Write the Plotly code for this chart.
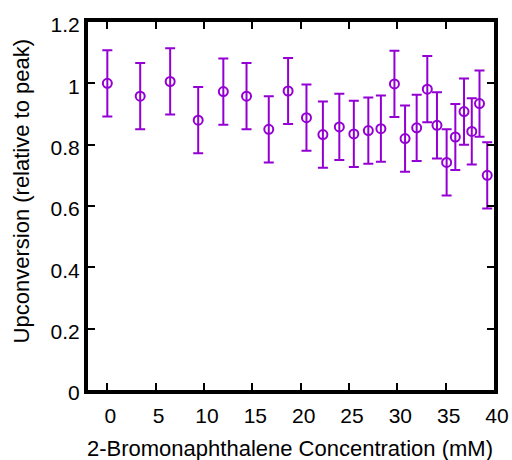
import plotly.graph_objects as go

conc = [0, 3.4, 6.5, 9.4, 12.0, 14.4, 16.7, 18.7, 20.6, 22.3, 24.0, 25.5, 27.0,
        28.3, 29.7, 30.8, 32.0, 33.1, 34.1, 35.1, 36.0, 36.9, 37.7, 38.5, 39.3]
upconv = [1.0, 0.958, 1.006, 0.880, 0.973, 0.958, 0.850, 0.975, 0.888, 0.833,
          0.858, 0.835, 0.846, 0.852, 0.998, 0.820, 0.855, 0.981, 0.863, 0.742,
          0.825, 0.908, 0.843, 0.934, 0.700]
err = [0.108, 0.108, 0.108, 0.108, 0.108, 0.108, 0.108, 0.108, 0.108, 0.108,
       0.108, 0.108, 0.108, 0.108, 0.108, 0.108, 0.108, 0.108, 0.108, 0.108,
       0.108, 0.108, 0.108, 0.108, 0.108]
x_ticks = [0, 5, 10, 15, 20, 25, 30, 35, 40]
y_ticks = [0, 0.2, 0.4, 0.6, 0.8, 1, 1.2]
y_ticktext = ["0", "0.2", "0.4", "0.6", "0.8", "1", "1.2"]

color = "#9400D3"
font = "Liberation Sans, Arial, sans-serif"

L, R, T, B = 88, 18, 22, 70
W, H = 512, 460
pw, ph = W - L - R, H - T - B

fig = go.Figure(go.Scatter(
    x=conc, y=upconv, mode="markers",
    marker=dict(symbol="circle-open", size=9, color=color, line=dict(width=2, color=color)),
    error_y=dict(type="data", array=err, visible=True, color=color, thickness=2, width=5),
))

axis_common = dict(showline=True, linewidth=4, linecolor="black", mirror="ticks",
                   ticks="inside", ticklen=7, tickwidth=2, tickcolor="black",
                   showgrid=False, zeroline=False,
                   tickfont=dict(family=font, size=21, color="black"))
fig.update_xaxes(range=[-2, 40], tickvals=x_ticks, ticklabelshift=3,
                 ticklabelstandoff=4, **axis_common)
fig.update_yaxes(range=[0, 1.2], tickvals=y_ticks, ticktext=y_ticktext,
                 ticklabelshift=3, **axis_common)

fig.add_annotation(text="2-Bromonaphthalene Concentration (mM)",
                   xref="paper", yref="paper",
                   x=(289.5 - L) / pw, y=(H - B - 448) / ph,
                   xanchor="center", yanchor="middle", showarrow=False,
                   font=dict(family=font, size=22, color="black"))
fig.add_annotation(text="Upconversion (relative to peak)",
                   xref="paper", yref="paper", textangle=-90,
                   x=(21.7 - L) / pw, y=(H - B - 191.7) / ph,
                   xanchor="center", yanchor="middle", showarrow=False,
                   font=dict(family=font, size=22, color="black"))

fig.update_layout(width=W, height=H, margin=dict(l=L, r=R, t=T, b=B, autoexpand=False),
                  plot_bgcolor="white", paper_bgcolor="white", showlegend=False)
fig.write_html("out.html", config={"displayModeBar": False},
               post_script="document.body.style.margin='0';")
